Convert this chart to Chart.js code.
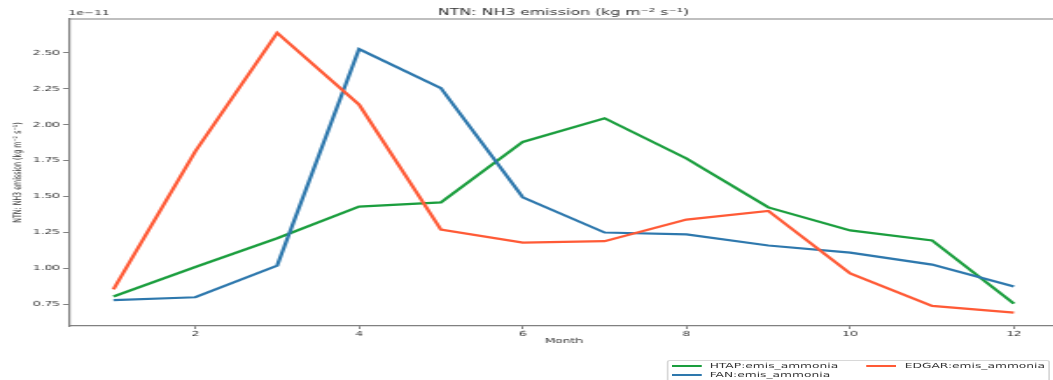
<!DOCTYPE html>
<html>
<head>
<meta charset="utf-8">
<script src="https://cdn.jsdelivr.net/npm/chart.js@4/dist/chart.umd.min.js"></script>
<style>
  html, body { margin: 0; padding: 0; background: #fff; overflow: hidden; }
  /* the reference is stretched sideways, so draw narrow and stretch */
  #wrap { position: relative; width: 608px; height: 380px; transform: scaleX(1.75); transform-origin: 0 0; }
  #legend { position: absolute; left: 380.5px; top: 360px; width: 219px; height: 30px;
            border: 1px solid #d8d8d8; border-radius: 2px; box-sizing: border-box;
            font: 7px "DejaVu Sans", sans-serif; color: #333; }
  .item { position: absolute; white-space: nowrap; line-height: 8px; }
  .item span.line { display: inline-block; width: 17px; height: 2px; vertical-align: middle; margin-right: 5px; }
</style>
</head>
<body>
<div id="wrap">
  <canvas id="chart" width="608" height="380"></canvas>
  <div id="legend"></div>
</div>
<script>
// values in units of 1e-11 kg m-2 s-1
const months = [1, 2, 3, 4, 5, 6, 7, 8, 9, 10, 11, 12];
const htap  = [0.805, 1.01, 1.21, 1.43, 1.46, 1.88, 2.045, 1.765, 1.425, 1.265, 1.195, 0.755];
const fan   = [0.78, 0.80, 1.02, 2.526, 2.254, 1.495, 1.25, 1.237, 1.16, 1.11, 1.027, 0.874];
const edgar = [0.855, 1.815, 2.639, 2.14, 1.27, 1.18, 1.19, 1.34, 1.40, 0.965, 0.74, 0.693];
const xTicks = [2, 4, 6, 8, 10, 12];
const yTicks = [0.75, 1.00, 1.25, 1.50, 1.75, 2.00, 2.25, 2.50];

const axisGray = '#808080';
const textColor = '#333';
const font = 'DejaVu Sans';

function series(vals) {
  return months.map((m, i) => ({ x: m, y: vals[i] }));
}

// top/right spine and the 1e-11 offset label
const frame = {
  id: 'frame',
  afterDraw(chart) {
    const { ctx, chartArea: a } = chart;
    ctx.save();
    ctx.strokeStyle = axisGray;
    ctx.lineWidth = 1.2;
    ctx.beginPath();
    ctx.moveTo(a.left, a.top);
    ctx.lineTo(a.right, a.top);
    ctx.lineTo(a.right, a.bottom);
    ctx.stroke();
    ctx.fillStyle = textColor;
    ctx.font = '7px "' + font + '"';
    ctx.textBaseline = 'bottom';
    ctx.fillText('1e\u221211', a.left, a.top - 2);
    ctx.restore();
  }
};

const chart = new Chart(document.getElementById('chart'), {
  type: 'line',
  data: {
    datasets: [
      { label: 'HTAP:emis_ammonia', data: series(htap), borderColor: '#1b9e3e', order: 2 },
      { label: 'FAN:emis_ammonia', data: series(fan), borderColor: '#2e78ad', order: 1 },
      { label: 'EDGAR:emis_ammonia', data: series(edgar), borderColor: '#ff5a36', order: 0 }
    ]
  },
  options: {
    responsive: false,
    animation: false,
    layout: { padding: { left: 0, right: 2.9, top: 0, bottom: 0 } },
    elements: {
      line: { borderWidth: 2.2, tension: 0, fill: false },
      point: { radius: 0, hoverRadius: 0 }
    },
    plugins: {
      legend: { display: false },
      tooltip: { enabled: false },
      title: {
        display: true,
        fullSize: false,
        text: 'NTN: NH3 emission (kg m\u207B\u00B2 s\u207B\u00B9)',
        color: textColor,
        font: { family: font, size: 9, weight: 'normal' },
        padding: { top: 7.1, bottom: 1.1 }
      }
    },
    scales: {
      x: {
        type: 'linear',
        min: 0.45,
        max: 12.55,
        afterFit: s => { s.height = 54; },
        afterBuildTicks: s => { s.ticks = xTicks.map(v => ({ value: v })); },
        border: { color: axisGray, width: 1.2 },
        grid: { drawOnChartArea: false, drawTicks: true, tickLength: 3, tickColor: axisGray },
        ticks: { color: textColor, font: { family: font, size: 7 }, padding: 1, maxRotation: 0 },
        title: {
          display: true, text: 'Month', color: textColor,
          font: { family: font, size: 7 }, padding: { top: 0, bottom: 34.8 }
        }
      },
      y: {
        min: 0.6,
        max: 2.735,
        afterFit: s => { s.width = 39.1; },
        afterBuildTicks: s => { s.ticks = yTicks.map(v => ({ value: v })); },
        border: { color: axisGray, width: 1.2 },
        grid: { drawOnChartArea: false, drawTicks: true, tickLength: 3, tickColor: axisGray },
        ticks: { color: textColor, font: { family: font, size: 7 }, padding: 1.8,
                 callback: v => v.toFixed(2) },
        title: {
          display: true, text: 'NTN: NH3 emission (kg m\u207B\u00B2 s\u207B\u00B9)', color: textColor,
          font: { family: font, size: 6.3 }, padding: { top: 6.4, bottom: 0 }
        }
      }
    }
  },
  plugins: [frame]
});

// legend in two columns, column-major like the reference
const legend = document.getElementById('legend');
const slots = [[2, 4.5], [2, 13.5], [113.5, 4.5]];
chart.data.datasets.forEach((ds, i) => {
  const el = document.createElement('div');
  el.className = 'item';
  el.style.left = slots[i][0] + 'px';
  el.style.top = slots[i][1] - 4 + 'px';
  el.innerHTML = '<span class="line" style="background:' + ds.borderColor + '"></span>' + ds.label;
  legend.appendChild(el);
});
</script>
</body>
</html>
